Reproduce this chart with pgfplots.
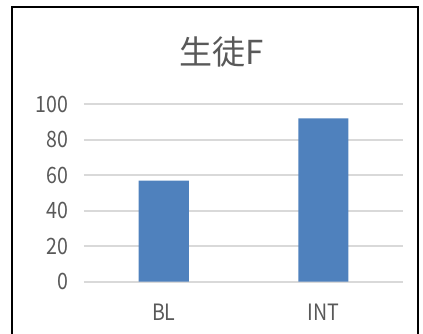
\documentclass[border=0pt]{standalone}
\usepackage{pgfplots}
\pgfplotsset{compat=1.18}
\usepackage{fontspec}
\setmainfont{Noto Sans CJK JP}
\newfontfamily\narrowfont{Noto Sans CJK JP}[FakeStretch=0.87]
\newfontfamily\titlefont{Noto Sans CJK JP}
\definecolor{barblue}{HTML}{4F81BD}
\definecolor{txtgray}{HTML}{595959}
\definecolor{gridgray}{HTML}{D9D9D9}
\begin{document}
\begin{tikzpicture}[x=1pt,y=1pt]
\useasboundingbox (0,0) rectangle (423,333);
\draw[black, line width=2pt] (12,-5) -- (12,326) -- (418,326) -- (418,-5);
\node[text=txtgray, font=\titlefont\fontsize{33}{36}\selectfont] at (222,281) {生徒F};
\begin{axis}[
  at={(84pt,51.3pt)}, anchor=south west,
  scale only axis, width=319pt, height=177.4pt,
  xmin=-0.5, xmax=1.5, ymin=0, ymax=100,
  ytick={0,20,40,60,80,100},
  xtick={0,1}, xticklabels={BL,INT},
  axis line style={draw=none},
  major tick length=0pt,
  ymajorgrids, major grid style={gridgray, line width=2pt},
  tick label style={text=txtgray, font=\narrowfont\fontsize{22.5}{24}\selectfont},
  /pgf/number format/assume math mode=true,
  yticklabel style={xshift=-12pt},
  xticklabel style={yshift=-19pt},
  clip=false,
]
\addplot[ybar, bar width=50pt, fill=barblue, draw=none] coordinates {(0,57) (1,92)};
\end{axis}
\end{tikzpicture}
\end{document}
